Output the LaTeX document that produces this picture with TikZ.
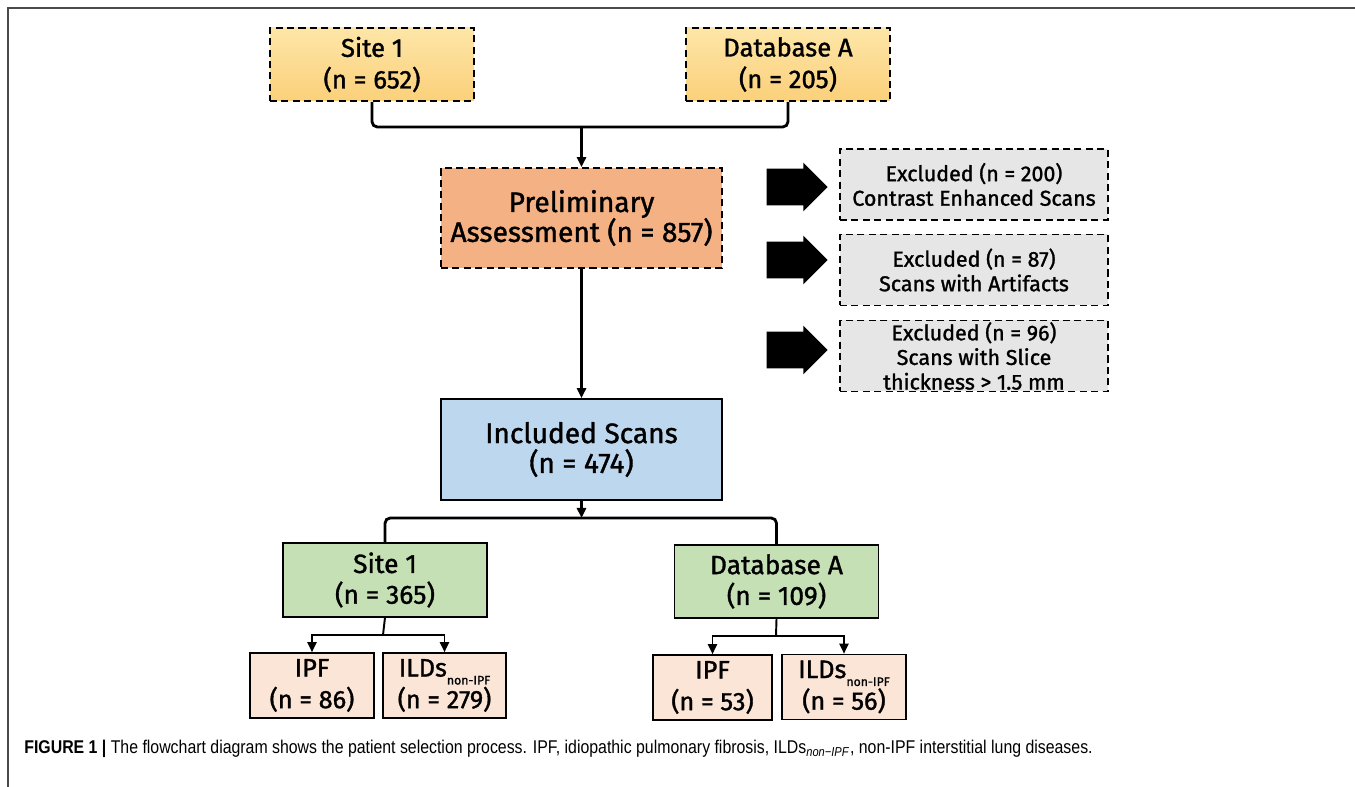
\documentclass[tikz,border=0pt]{standalone}
\usepackage{fontspec}
\setmainfont{Fira Sans}[FakeBold=1.3]
\newfontfamily\capfont[FakeStretch=0.86]{Liberation Sans}
\usetikzlibrary{arrows.meta,shapes.arrows}
\definecolor{yeltop}{HTML}{FDE6A8}
\definecolor{yelbot}{HTML}{FBD07A}
\definecolor{salmon}{HTML}{F4B183}
\definecolor{skyblue}{HTML}{BDD7EE}
\definecolor{leaf}{HTML}{C5E0B4}
\definecolor{peach}{HTML}{FBE5D6}
\definecolor{ashgray}{HTML}{E7E6E6}
\definecolor{framegray}{HTML}{4A4A4A}
\newcommand{\subtag}[1]{\raisebox{-4.5pt}{\fontsize{7}{7}\selectfont #1}}
\begin{document}
\begin{tikzpicture}[
        box/.style={draw, align=center, inner sep=0pt, line width=0.9pt},
        dbox/.style={box, dash pattern=on 4pt off 2.5pt},
        srcbox/.style={dbox, top color=yeltop, bottom color=yelbot, minimum width=4.08cm, minimum height=1.46cm, font=\fontsize{14.6}{18}\selectfont},
        prebox/.style={dbox, fill=salmon, minimum width=5.62cm, minimum height=2cm, font=\fontsize{16}{17}\selectfont},
        inbox/.style={box, fill=skyblue, minimum width=5.62cm, minimum height=2.02cm, font=\fontsize{16}{17}\selectfont},
        grpbox/.style={box, fill=leaf, minimum width=4.08cm, minimum height=1.47cm, font=\fontsize{15}{17.5}\selectfont},
        subbox/.style={box, fill=peach, minimum width=2.46cm, minimum height=1.3cm, font=\fontsize{14.4}{18}\selectfont},
        exbox/.style={dbox, fill=ashgray, minimum width=5.36cm, minimum height=1.42cm, font=\fontsize{12.2}{14}\selectfont},
        conn/.style={line width=1.6pt, rounded corners=3pt},
        fine/.style={line width=1.1pt},
        tip/.style={-{Triangle[length=0.2cm,width=0.18cm]}},
        barrow/.style={single arrow, fill=black, inner xsep=0pt, inner ysep=0.36cm, minimum height=1.22cm, single arrow head extend=0.12cm, single arrow tip angle=90}
    ]
        \useasboundingbox (0,0) rectangle (27.1,15.74);
        \draw[framegray, line width=1.1pt] (0.16,0) -- (0.16,15.58) -- (27.1,15.58);% Frame

        \node[srcbox] (site) at (7.44,14.45) {Site 1\\(n = 652)};
        \node[srcbox] (dba) at (15.76,14.45) {Database A\\(n = 205)};
        \node[prebox] (prelim) at (11.63,11.38) {Preliminary\\Assessment (n = 857)};
        \node[inbox] (incl) at (11.63,6.75) {Included Scans\\(n = 474)};

        \node[exbox] (ex1) at (19.48,12.05) {Excluded (n = 200)\\Contrast Enhanced Scans};
        \node[exbox] (ex2) at (19.48,10.34) {Excluded (n = 87)\\Scans with Artifacts};
        \node[exbox] (ex3) at (19.48,8.62) {Excluded (n = 96)\\Scans with Slice\\thickness > 1.5 mm};
        \node[barrow] (a1) at (15.76,12.0) {};
        \node[barrow] (a2) at (15.76,10.54) {};
        \node[barrow] (a3) at (15.76,8.74) {};

        \node[grpbox] (site2) at (7.70,4.14) {Site 1\\(n = 365)};
        \node[grpbox] (dbb) at (15.53,4.11) {Database A\\(n = 109)};
        \node[subbox, minimum width=2.48cm] (ipf1) at (6.24,2.03) {IPF\\(n = 86)};
        \node[subbox] (ild1) at (8.89,2.03) {ILDs\subtag{non-IPF}\\(n = 279)};
        \node[subbox, minimum width=2.38cm] (ipf2) at (14.25,1.99) {IPF\\(n = 53)};
        \node[subbox, minimum width=2.48cm] (ild2) at (16.88,2.00) {ILDs\subtag{non-IPF}\\(n = 56)};

        \coordinate (topjoin) at (11.63,13.2);
        \coordinate (incljoin) at (11.63,5.38);
        \coordinate (s2join) at (7.66,3.04);
        \coordinate (dbjoin) at (15.52,3.02);

        \draw[conn] (site.south) |- (topjoin) -| (dba.south);
        \draw[conn, tip] (topjoin) -- (prelim.north);
        \draw[conn, tip] (prelim.south) -- (incl.north);
        \draw[conn, tip] (incl.south) -- (incljoin);
        \draw[conn] (site2.north) |- (incljoin) -| (dbb.north);

        \draw[fine] (site2.south) -- (s2join);
        \draw[fine, tip] (s2join) -| (ipf1.north);
        \draw[fine, tip] (s2join) -| (ild1.north);
        \draw[fine] (dbb.south) -- (dbjoin);
        \draw[fine, tip] (dbjoin) -| (ipf2.north);
        \draw[fine, tip] (dbjoin) -| (ild2.north);

        \node[anchor=base west, font=\capfont\fontsize{10.5}{12}\selectfont, inner sep=0pt] (cap) at (0.48,0.66)
            {\textbf{FIGURE 1 |} The flowchart diagram shows the patient selection process. IPF, idiopathic pulmonary fibrosis, ILDs\textsubscript{\textit{non−IPF}}, non-IPF interstitial lung diseases.};
    \end{tikzpicture}
\end{document}
